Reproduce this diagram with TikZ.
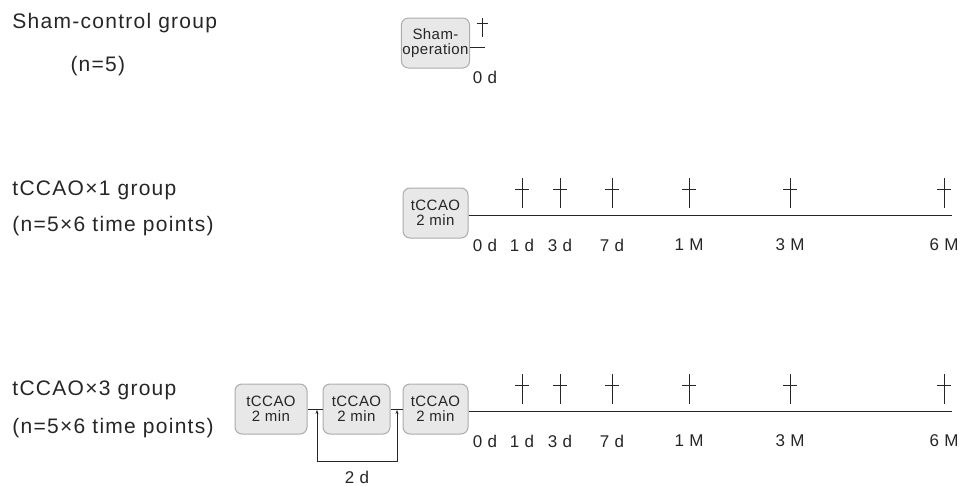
\documentclass[tikz,border=0pt]{standalone}
\usepackage{fontspec}
\setmainfont{Liberation Sans}[LetterSpace=3]
\newfontfamily\grpfont{Liberation Sans}[LetterSpace=6]
\usetikzlibrary{arrows.meta, positioning, calc}

\tikzset{
  grouplabel/.style={anchor=west, inner sep=0pt, font=\grpfont\fontsize{21}{24}\selectfont},
  opbox/.style={draw=gray!65, fill=gray!18, rounded corners=7pt, minimum height=50pt,
    align=center, inner sep=1pt, font=\fontsize{15}{15.5}\selectfont},
  tlabel/.style={inner sep=0pt, font=\fontsize{17}{18}\selectfont},
}

\begin{document}
\begin{tikzpicture}[x=1pt, y=-1pt, >=Stealth, line width=1pt, black!85]
\useasboundingbox (0,0) rectangle (964,485);
% group names
\node[grouplabel] (g1) at (12,23) {Sham-control group};
\node[grouplabel] (n1) at (70,66) {(n=5)};
\node[grouplabel] (g2) at (12,190) {tCCAO×1 group};
\node[grouplabel] (n2) at (12,226) {(n=5×6 time points)};
\node[grouplabel] (g3) at (12,390) {tCCAO×3 group};
\node[grouplabel] (n3) at (12,428) {(n=5×6 time points)};

% sham row
\node[opbox, minimum width=65pt] (sham) at (435.5,43) {Sham-\\operation};
\coordinate (sham-end) at (485,47);
\draw (sham.east |- sham-end) -- (sham-end);
\draw (482,18) -- (482,37) (476.5,23) -- (487.5,23);
\node[tlabel] (s0) at (485,77) {0 d};

% single occlusion
\node[opbox, minimum width=65pt] (op2) at (435.5,213) {tCCAO\\2 min};
\coordinate (end2) at (952,215);
\draw (op2.east |- end2) -- (end2);
\foreach \x/\t [count=\i] in {485/0 d, 522/1 d, 560/3 d, 612/7 d, 689/1 M, 790/3 M, 944/6 M}
  \node[tlabel] (t2-\i) at (\x,245) {\t};
\foreach \i in {2,...,7}{
  \draw (t2-\i |- 0,178) -- (t2-\i |- 0,208);
  \draw ($(t2-\i |- 0,189)+(-7,0)$) -- ++(14,0);
}

% three occlusions, 2 d apart
\node[opbox, minimum width=72pt] (op3a) at (271,409) {tCCAO\\2 min};
\node[opbox, minimum width=67pt] (op3b) at (356.5,409) {tCCAO\\2 min};
\node[opbox, minimum width=65pt] (op3c) at (435.5,409) {tCCAO\\2 min};
\draw (op3a) -- (op3b);
\draw (op3b) -- (op3c);
\coordinate (end3) at (952,411);
\draw (op3c.east |- end3) -- (end3);
\coordinate (k1) at (317,410);
\coordinate (k2) at (397,410);
\draw[line width=0.8pt, {Stealth[length=4pt,width=3pt]}-{Stealth[length=4pt,width=3pt]}] (k1) -- (k1 |- 0,461) -| (k2);
\node[tlabel] (gap) at (357,477) {2 d};
\foreach \x/\t [count=\i] in {485/0 d, 522/1 d, 560/3 d, 612/7 d, 689/1 M, 790/3 M, 944/6 M}
  \node[tlabel] (t3-\i) at (\x,441) {\t};
\foreach \i in {2,...,7}{
  \draw (t3-\i |- 0,374) -- (t3-\i |- 0,404);
  \draw ($(t3-\i |- 0,385)+(-7,0)$) -- ++(14,0);
}
\end{tikzpicture}
\end{document}
